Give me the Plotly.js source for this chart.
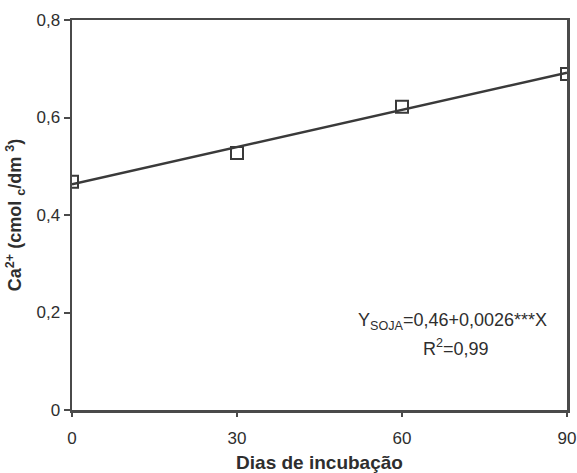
<!DOCTYPE html>
<html>
<head>
<meta charset="utf-8">
<script src="https://cdn.plot.ly/plotly-3.0.1.min.js"></script>
<style>html,body{margin:0;padding:0;background:#fff;}#chart{width:577px;height:473px;}</style>
</head>
<body>
<div id="chart"></div>
<script>
// Data
const days = [0, 30, 60, 90];
const calcium = [0.468, 0.527, 0.622, 0.689];
const fitDays = [0, 90];
const fitCalcium = [0.463, 0.692];
const xTicks = [0, 30, 60, 90];
const yTicks = [0, 0.2, 0.4, 0.6, 0.8];
const equationText = "Y<sub>SOJA</sub>=0,46+0,0026***X";
const r2Text = "R<sup>2</sup>=0,99";

const axisColor = '#4a4a4a';
const font = {family: 'Liberation Sans, Arial, sans-serif', size: 17, color: '#2e2e2e'};

const traces = [
  {x: fitDays, y: fitCalcium, mode: 'lines', type: 'scatter',
   line: {color: '#3a3a3a', width: 2.5}, showlegend: false, hoverinfo: 'skip'},
  {x: days, y: calcium, mode: 'markers', type: 'scatter',
   marker: {symbol: 'square-open', size: 12, color: '#3a3a3a', line: {width: 2, color: '#3a3a3a'}},
   showlegend: false}
];

const layout = {
  width: 577, height: 473,
  margin: {l: 72, r: 10, t: 20, b: 63},
  paper_bgcolor: '#fff', plot_bgcolor: '#fff',
  font: font,
  separators: ',.',
  xaxis: {
    range: [0, 90], tickvals: xTicks, ticks: 'outside', ticklen: 4, tickwidth: 2, tickcolor: axisColor,
    showline: true, linecolor: axisColor, linewidth: 2.5, mirror: true,
    showgrid: false, zeroline: false, tickfont: {size: 17}, ticklabelstandoff: 7,
    title: {text: '<b>Dias de incubação</b>', font: {size: 19}, standoff: 13}
  },
  yaxis: {
    range: [0, 0.8], tickvals: yTicks, ticks: 'outside', ticklen: 6, tickwidth: 2, tickcolor: axisColor,
    showline: true, linecolor: axisColor, linewidth: 2.5, mirror: true,
    showgrid: false, zeroline: false, tickfont: {size: 17},
    title: {text: '<b>Ca<sup>2+</sup> (cmol <sub>c</sub>/dm <sup>3</sup>)</b>', font: {size: 18}, standoff: 10}
  },
  annotations: [
    {x: 0.964, y: 0.228, xref: 'paper', yref: 'paper', xanchor: 'right', yanchor: 'middle',
     text: equationText, showarrow: false, font: {size: 18, color: '#2e2e2e'}},
    {x: 0.775, y: 0.161, xref: 'paper', yref: 'paper', xanchor: 'center', yanchor: 'middle',
     text: r2Text, showarrow: false, font: {size: 18, color: '#2e2e2e'}}
  ]
};

Plotly.newPlot('chart', traces, layout, {displayModeBar: false, staticPlot: true});
</script>
</body>
</html>
